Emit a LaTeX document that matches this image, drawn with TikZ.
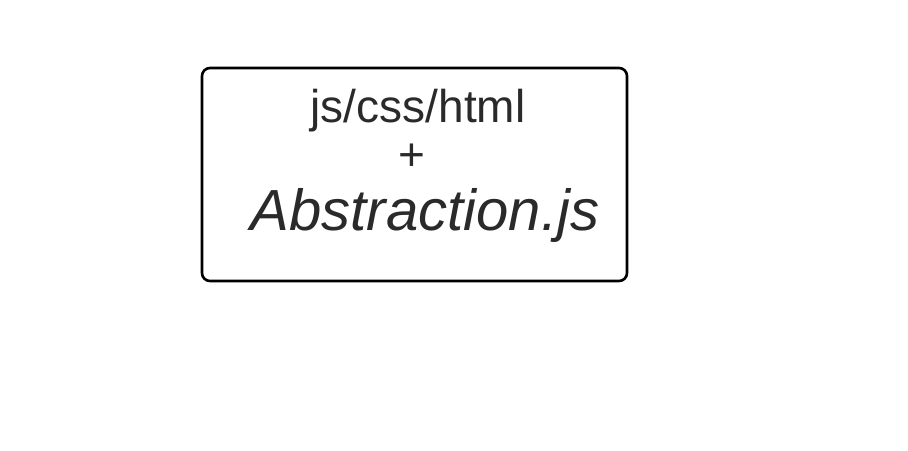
\documentclass[tikz,border=0pt]{standalone}
\usepackage{fontspec}
\setmainfont{Liberation Sans}
\usetikzlibrary{positioning}
\definecolor{inkgray}{HTML}{2A2A2A}

\begin{document}
\begin{tikzpicture}[
    x=0.5pt, y=-0.5pt,
    frame/.style={draw=black, line width=1.3pt, rounded corners=4pt, minimum width=212.5pt, minimum height=106.5pt},
    label/.style={anchor=base, inner sep=0pt, text=inkgray}
]
\useasboundingbox (0,0) rectangle (908,450);
\node[frame] (box) at (414.5,174.5) {};
\node[label, font=\fontsize{23}{27}\selectfont] (tech) at (418,122) {js/css/html};
\node[label, font=\fontsize{23}{27}\selectfont] (plus) at (412,170) {+};
\node[label, font=\fontsize{29}{34}\selectfont\itshape] (lib) at (425,230) {Abstraction.js};
\end{tikzpicture}
\end{document}
